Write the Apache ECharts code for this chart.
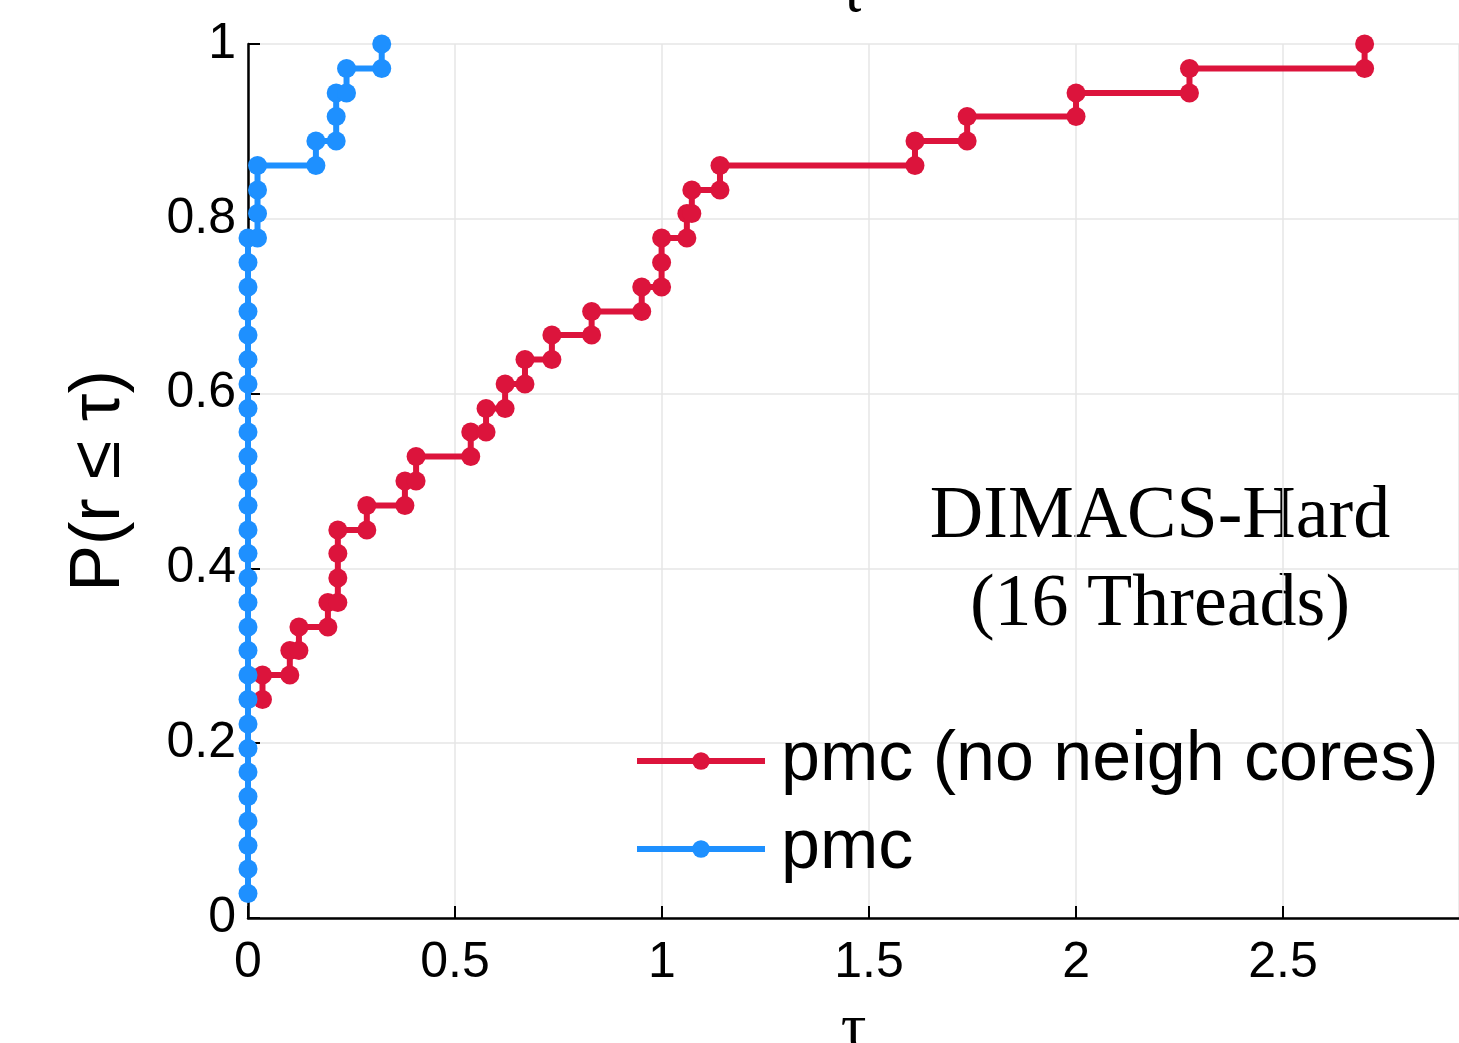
<!DOCTYPE html>
<html>
<head>
<meta charset="utf-8">
<script src="https://cdn.jsdelivr.net/npm/echarts@6/dist/echarts.min.js"></script>
<style>
html,body{margin:0;padding:0;background:#fff;}
#chart{width:1459px;height:1043px;}
</style>
</head>
<body>
<div id="chart"></div>
<script>
// ---- data ----
const seriesNames = ['pmc (no neigh cores)', 'pmc'];
const seriesColors = ['#DC143C', '#1E90FF'];

const redTau = [0.035,0.035,0.101,0.101,0.123,0.123,0.193,0.193,0.217,0.217,0.217,0.217,0.287,0.287,0.379,0.379,0.406,0.406,0.538,0.538,0.575,0.575,0.621,0.621,0.669,0.669,0.734,0.734,0.830,0.830,0.951,0.951,0.999,0.999,0.999,1.060,1.060,1.072,1.072,1.140,1.140,1.611,1.611,1.737,1.737,2.000,2.000,2.274,2.274,2.697,2.697];
const redP   = [0.25,0.278,0.278,0.306,0.306,0.333,0.333,0.361,0.361,0.389,0.417,0.444,0.444,0.472,0.472,0.5,0.5,0.528,0.528,0.556,0.556,0.583,0.583,0.611,0.611,0.639,0.639,0.667,0.667,0.694,0.694,0.722,0.722,0.75,0.778,0.778,0.806,0.806,0.833,0.833,0.861,0.861,0.889,0.889,0.917,0.917,0.944,0.944,0.972,0.972,1.0];

const blueTau = [0,0,0,0,0,0,0,0,0,0,0,0,0,0,0,0,0,0,0,0,0,0,0,0,0,0,0,0,0.023,0.023,0.023,0.023,0.164,0.164,0.213,0.213,0.213,0.238,0.238,0.323,0.323];
const blueP   = [0.028,0.056,0.083,0.111,0.139,0.167,0.194,0.222,0.25,0.278,0.306,0.333,0.361,0.389,0.417,0.444,0.472,0.5,0.528,0.556,0.583,0.611,0.639,0.667,0.694,0.722,0.75,0.778,0.778,0.806,0.833,0.861,0.861,0.889,0.889,0.917,0.944,0.944,0.972,0.972,1.0];

const xTicks = [0, 0.5, 1, 1.5, 2, 2.5];
const yTicks = [0, 0.2, 0.4, 0.6, 0.8, 1];
const annotation = ['DIMACS-Hard', '(16 Threads)'];
const xName = 'τ';
const yName = 'P(r ≤ τ)';

// ---- chart ----
const zip = (xs, ys) => xs.map((x, i) => [x, ys[i]]);
const chart = echarts.init(document.getElementById('chart'), null, {renderer: 'canvas'});

const sans = 'Liberation Sans, Arial, Helvetica, sans-serif';
const serif = 'Liberation Serif, Times New Roman, serif';

function mkSeries(name, color, data) {
  return {
    name: name,
    type: 'line',
    data: data,
    symbol: 'circle',
    symbolSize: 19,
    showSymbol: true,
    showAllSymbol: true,
    lineStyle: {color: color, width: 6},
    itemStyle: {color: color},
    emphasis: {disabled: true},
    animation: false,
    clip: false,
    z: 3
  };
}

chart.setOption({
  backgroundColor: '#ffffff',
  animation: false,
  grid: {left: 248, right: 0, top: 44, bottom: 125, containLabel: false, outerBoundsMode: 'none'},
  xAxis: {
    type: 'value',
    min: 0,
    max: 2.925,
    interval: 0.5,
    name: xName,
    nameLocation: 'middle',
    nameGap: 80,
    nameTextStyle: {fontFamily: serif, fontSize: 64, color: '#000', verticalAlign: 'top'},
    axisLine: {show: true, onZero: false, lineStyle: {color: '#000', width: 2.5}},
    axisTick: {show: true, inside: true, length: 12, lineStyle: {color: '#000', width: 2}},
    axisLabel: {
      fontFamily: sans, fontSize: 50, color: '#000', margin: 20,
      showMaxLabel: false,
      formatter: v => (xTicks.indexOf(v) >= 0 ? String(v) : '')
    },
    splitLine: {show: true, lineStyle: {color: '#e6e6e6', width: 1.5}}
  },
  yAxis: {
    type: 'value',
    min: 0,
    max: 1,
    interval: 0.2,
    name: yName,
    nameLocation: 'middle',
    nameGap: 113,
    nameRotate: 90,
    nameTextStyle: {fontFamily: sans, fontSize: 70, color: '#000'},
    axisLine: {show: true, onZero: false, lineStyle: {color: '#000', width: 2.5}},
    axisTick: {show: true, inside: true, length: 12, lineStyle: {color: '#000', width: 2}},
    axisLabel: {
      fontFamily: sans, fontSize: 50, color: '#000', margin: 12,
      formatter: v => (yTicks.indexOf(v) >= 0 ? String(v) : '')
    },
    splitLine: {show: true, lineStyle: {color: '#e6e6e6', width: 1.5}}
  },
  legend: {
    show: true,
    orient: 'vertical',
    left: 634,
    top: 726,
    itemWidth: 128,
    itemHeight: 22,
    itemGap: 18,
    padding: 0,
    lineStyle: {width: 6},
    textStyle: {fontFamily: sans, fontSize: 70, color: '#000', lineHeight: 70, padding: [0, 0, 0, 11]},
    selectedMode: false,
    data: seriesNames
  },
  graphic: [
    {
      type: 'text',
      style: {
        x: 1160, y: 562,
        text: annotation.join('\n'),
        font: '74px ' + serif,
        fill: '#000',
        align: 'center',
        verticalAlign: 'middle',
        lineHeight: 88
      }
    },
    {
      type: 'text',
      style: {
        x: 852, y: 26,
        text: xName,
        font: '64px ' + serif,
        fill: '#000',
        align: 'center',
        verticalAlign: 'bottom'
      }
    }
  ],
  series: [
    mkSeries(seriesNames[0], seriesColors[0], zip(redTau, redP)),
    mkSeries(seriesNames[1], seriesColors[1], zip(blueTau, blueP))
  ]
});
</script>
</body>
</html>
